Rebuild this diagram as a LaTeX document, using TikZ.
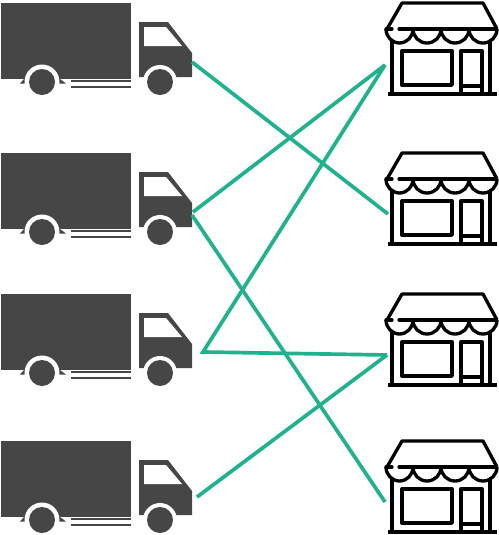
\documentclass[tikz,border=0pt]{standalone}
\usepackage{tikz}
\definecolor{truckgrey}{RGB}{70, 70, 70}
\definecolor{linkgreen}{RGB}{32, 178, 141}

\begin{document}
\begin{tikzpicture}[
  x=0.02cm, y=-0.02cm,
  link/.style={linkgreen, line width=2.1pt},
  storeline/.style={black, line width=1.9pt, line join=round},
  truck/.pic={
    \fill[truckgrey] (1,3) rectangle (131,79);
    \fill[truckgrey] (20,83.5) -- (24,79) -- (60,79) -- (66,83.5) -- cycle;
    \fill[white] (42,82) circle (17.5);
    \fill[truckgrey] (42,82) circle (13);
    \fill[truckgrey] (71,79.5) rectangle (131,82);
    \fill[truckgrey] (71,85.5) rectangle (131,88);
    \fill[truckgrey] (139,22) -- (168,22) -- (192,53) -- (192,77) -- (139,77) -- cycle;
    \fill[white] (144,27) -- (166,27) -- (182,46) -- (144,46) -- cycle;
    \fill[white] (160,82) circle (17);
    \fill[truckgrey] (160,82) circle (13);
  },
  store/.pic={
    \draw[storeline] (387,29) -- (402,3) -- (483,3) -- (497,29);
    \draw[storeline, line cap=round] (386,29) -- (392,29) (399,29) -- (496,29);
    \draw[storeline] (386,29) arc[start angle=180, end angle=0, x radius=13.5, y radius=14]
      arc[start angle=180, end angle=0, x radius=14, y radius=14]
      arc[start angle=180, end angle=0, x radius=14, y radius=14]
      arc[start angle=180, end angle=0, x radius=14, y radius=14];
    \draw[storeline] (392,40) -- (392,94) (490,40) -- (490,94);
    \draw[storeline] (388,94) -- (497,94);
    \draw[storeline] (402,51) rectangle (452,85);
    \draw[storeline] (461,94) -- (461,51) -- (482,51) -- (482,94) (461,86) -- (482,86);
  }
]
\useasboundingbox (0,0) rectangle (499,535);

% trucks
\pic at (0,0) {truck};
\pic at (0,150) {truck};
\pic at (0,291) {truck};
\pic at (0,438) {truck};

% stores
\pic at (0,0) {store};
\pic at (0,150) {store};
\pic at (0,291) {store};
\pic at (0,438) {store};

\coordinate (truckA) at (192,62);
\coordinate (truckB) at (193,212);
\coordinate (truckBlow) at (192,215);
\coordinate (truckC) at (203,352);
\coordinate (truckD) at (197,497);
\coordinate (storeA) at (385,65);
\coordinate (storeB) at (388,214);
\coordinate (storeC) at (387,355);
\coordinate (storeD) at (385,502);

\draw[link] (truckA) -- (storeB);
\draw[link] (truckB) -- (storeA);
\draw[link] (truckBlow) -- (storeD);
\draw[link, line join=miter] (storeA) -- (truckC) -- (storeC);
\draw[link] (truckD) -- (storeC);

\end{tikzpicture}
\end{document}
